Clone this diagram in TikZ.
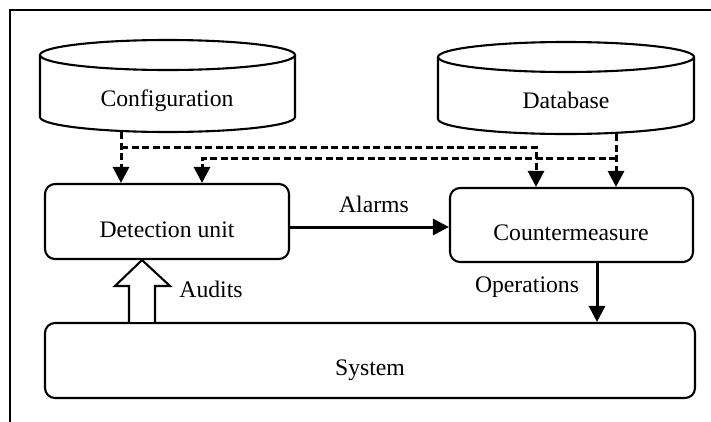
\documentclass[tikz,border=0pt]{standalone}
\usepackage{fontspec}
\setmainfont{Liberation Serif}
\usetikzlibrary{arrows.meta,calc}
\begin{document}
\begin{tikzpicture}[x=1pt,y=-1pt,
 box/.style={draw, line width=2.1pt, rounded corners=10pt, inner sep=0},
 area/.style={inner sep=0},
 txt/.style={anchor=base, inner sep=0, font=\fontsize{23.7}{28}\selectfont},
 conn/.style={line width=3pt, -{Triangle[length=16pt,width=16pt]}},
 dconn/.style={conn, dash pattern=on 7pt off 3.5pt},
 shapeline/.style={line width=2.1pt},
]
\useasboundingbox (0,0) rectangle (711,421);
\draw[shapeline] (10,430) -- (10,10) -- (720,10);

% cylinders
\node[area, minimum width=255pt, minimum height=92pt] (conf) at (167.5,86) {};
\draw[shapeline] (167.5,55) ellipse [x radius=127.5pt, y radius=15pt];
\draw[shapeline] (40,55) -- (40,117) arc[start angle=180, end angle=360, x radius=127.5pt, y radius=15pt] -- (295,55);
\node[txt] (conft) at (167,106) {Configuration};

\node[area, minimum width=256pt, minimum height=92pt] (db) at (566,88) {};
\draw[shapeline] (566,57) ellipse [x radius=128pt, y radius=15pt];
\draw[shapeline] (438,57) -- (438,119) arc[start angle=180, end angle=360, x radius=128pt, y radius=15pt] -- (694,57);
\node[txt] (dbt) at (566,108) {Database};

% boxes
\node[box, minimum width=244pt, minimum height=75pt] (det) at (167,221.5) {};
\node[txt] (dett) at (167,237) {Detection unit};
\node[box, minimum width=243pt, minimum height=74pt] (cm) at (571.5,225) {};
\node[txt] (cmt) at (571,240) {Countermeasure};
\node[box, minimum width=650pt, minimum height=75pt] (sys) at (370,360.5) {};
\node[txt] (syst) at (370,375) {System};

% solid connectors
\draw[conn] (det.east |- 0,227) -- (cm.west |- 0,227);
\node[txt] (alarms) at (374,212) {Alarms};
\draw[conn] (597,0 |- cm.south) -- (597,0 |- sys.north);
\node[txt] (ops) at (527,292) {Operations};

% audits block arrow
\draw[shapeline, fill=white] (129,0 |- sys.north) -- (129,286) -- (115,286) -- (142,0 |- det.south) -- (170,286) -- (155,286) -- (155,0 |- sys.north);
\node[txt] (audits) at (211,297) {Audits};

% dashed connectors
\coordinate (b1) at (121,147);
\coordinate (b2) at (616,158);
\draw[dconn] (121,0 |- conf.south) -- (121,0 |- det.north);
\draw[dconn] (b1) -- (536,147) -- (536,0 |- cm.north);
\draw[dconn] (616,0 |- db.south) -- (616,0 |- cm.north);
\draw[dconn] (b2) -- (202,158) -- (202,0 |- det.north);
\end{tikzpicture}
\end{document}
